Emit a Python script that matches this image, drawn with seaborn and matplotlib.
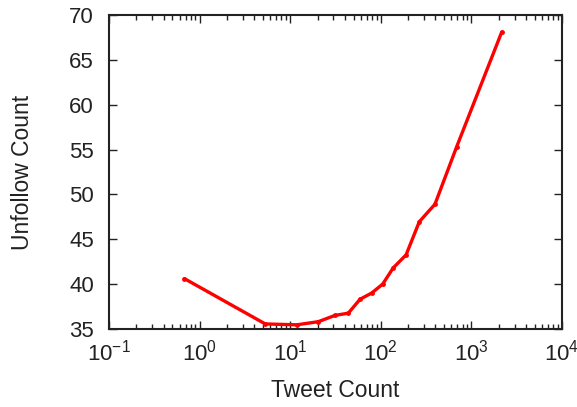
import pandas as pd
import matplotlib.pyplot as plt
import seaborn as sns

# Tweet count vs unfollow count
tweet_count = [0.68, 5.3, 11.8, 20.4, 31.2, 43.8, 58.9, 79.4, 105, 137, 190, 266, 396, 687, 2160]
unfollow_count = [40.6, 35.55, 35.45, 35.8, 36.5, 36.75, 38.3, 39.0, 40.0, 41.8, 43.25, 46.95, 48.9, 55.3, 68.1]

df = pd.DataFrame({'tweets': tweet_count, 'unfollow': unfollow_count})

sns.set_style("ticks")
plt.rcParams['font.family'] = ['Liberation Sans', 'DejaVu Sans']
plt.rcParams['mathtext.fontset'] = 'custom'
plt.rcParams['mathtext.rm'] = 'Liberation Sans'
plt.rcParams['mathtext.it'] = 'Liberation Sans'

fig = plt.figure(figsize=(5.77, 4.07), dpi=100)
ax = fig.add_axes([0.189, 0.192, 0.785, 0.771])

sns.lineplot(data=df, x='tweets', y='unfollow', color='#ff0000', linewidth=2.4,
             marker='o', markersize=3.5, markeredgewidth=0, ax=ax)

ax.set_xscale('log')
ax.set_xlim(0.1, 10000)
ax.set_ylim(35, 70)
ax.set_yticks(range(35, 71, 5))
ax.set_xlabel('Tweet Count', fontsize=16.5, color='#222222', va='center')
ax.set_ylabel('Unfollow Count', fontsize=16.5, color='#222222', va='center')
ax.xaxis.set_label_coords(0.5, -0.195)
ax.yaxis.set_label_coords(-0.192, 0.5)

ax.tick_params(which='both', direction='in', top=True, right=True, labelsize=16, colors='#222222')
ax.tick_params(which='major', length=6, width=1)
ax.tick_params(which='minor', length=3.5, width=1)
ax.tick_params(axis='y', pad=11)
ax.tick_params(axis='x', pad=8)
for s in ax.spines.values():
    s.set_linewidth(1.5)
    s.set_color('#222222')

plt.savefig('out.png', dpi=100)
